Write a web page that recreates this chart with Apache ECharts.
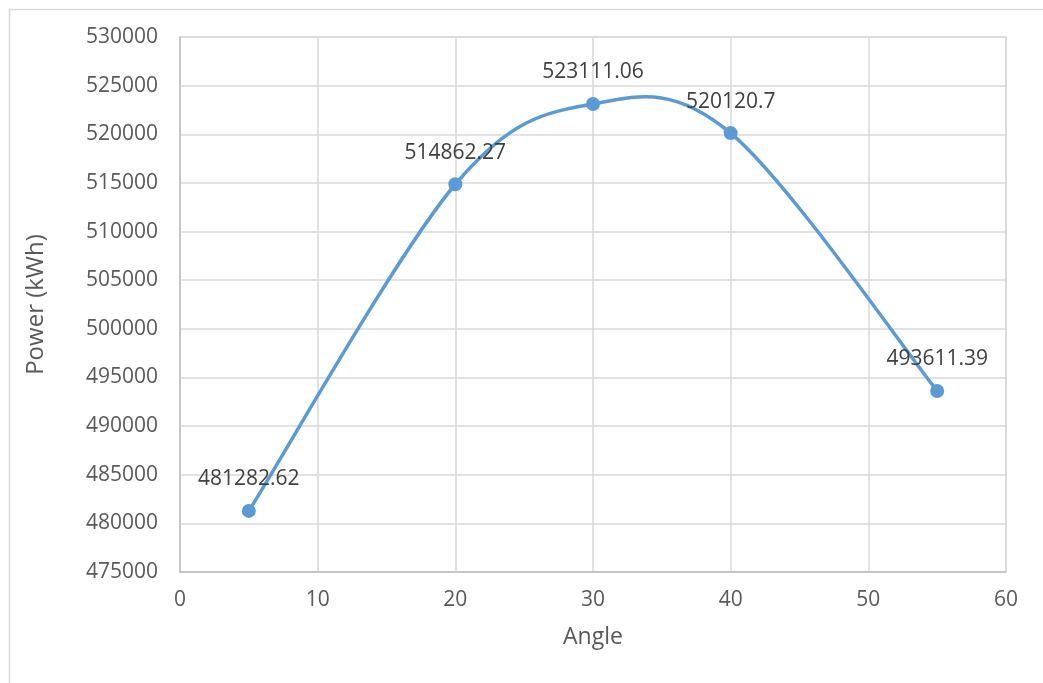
<!DOCTYPE html>
<html><head><meta charset="utf-8">
<script src="https://cdn.jsdelivr.net/npm/echarts@6/dist/echarts.min.js"></script>
<style>html,body{margin:0;padding:0;background:#fff}#c{width:1043px;height:683px}</style>
</head><body><div id="c"></div>
<script>
const angles = [5, 20, 30, 40, 55];
const power = [481282.62, 514862.27, 523111.06, 520120.7, 493611.39];
const xTicks = [0, 10, 20, 30, 40, 50, 60];
const yMin = 475000, yMax = 530000, yStep = 5000;
const xName = 'Angle', yName = 'Power (kWh)';

const font = '"Open Sans", "Noto Sans", sans-serif';
const pts = angles.map((a, i) => [a, power[i]]);
const color = '#5b9bd5';

// Excel-style smoothed line: cubic Bezier with Catmull-Rom control points (tension 1/6) in pixel space
function renderCurve(params, api) {
  const P = pts.map(p => api.coord(p));
  const children = [];
  for (let i = 0; i < P.length - 1; i++) {
    const p0 = P[Math.max(i - 1, 0)], p1 = P[i], p2 = P[i + 1], p3 = P[Math.min(i + 2, P.length - 1)];
    children.push({
      type: 'bezierCurve',
      shape: {
        x1: p1[0], y1: p1[1], x2: p2[0], y2: p2[1],
        cpx1: p1[0] + (p2[0] - p0[0]) / 6, cpy1: p1[1] + (p2[1] - p0[1]) / 6,
        cpx2: p2[0] - (p3[0] - p1[0]) / 6, cpy2: p2[1] - (p3[1] - p1[1]) / 6
      },
      style: {stroke: color, lineWidth: 3.5, fill: null, lineCap: 'round'}
    });
  }
  return {type: 'group', children};
}

const chart = echarts.init(document.getElementById('c'), null, {renderer: 'canvas'});
chart.setOption({
  animation: false,
  backgroundColor: '#fff',
  graphic: [{type: 'rect', left: 7, top: 7, shape: {width: 1100, height: 720}, style: {fill: 'none', stroke: '#d9d9d9', lineWidth: 1.5}, silent: true, z: -1}],
  grid: {left: 180, right: 37, top: 37, bottom: 111, show: true, borderColor: '#d9d9d9', borderWidth: 1.5, backgroundColor: 'transparent'},
  xAxis: {
    type: 'value', min: xTicks[0], max: xTicks[xTicks.length - 1], interval: 10,
    name: xName, nameLocation: 'middle', nameGap: 54,
    nameTextStyle: {fontFamily: font, fontSize: 23, color: '#595959'},
    axisLine: {show: true, lineStyle: {color: '#bfbfbf', width: 1.5}},
    axisTick: {show: false},
    axisLabel: {fontFamily: font, fontSize: 21, color: '#595959', margin: 18},
    splitLine: {show: true, lineStyle: {color: '#d9d9d9', width: 1.5}}
  },
  yAxis: {
    type: 'value', min: yMin, max: yMax, interval: yStep,
    name: yName, nameLocation: 'middle', nameGap: 132, nameRotate: 90,
    nameTextStyle: {fontFamily: font, fontSize: 24, color: '#595959'},
    axisLine: {show: true, lineStyle: {color: '#bfbfbf', width: 1.5}},
    axisTick: {show: false},
    axisLabel: {fontFamily: font, fontSize: 21, color: '#595959', margin: 22, formatter: v => String(v)},
    splitLine: {show: true, lineStyle: {color: '#d9d9d9', width: 1.5}}
  },
  series: [{
    type: 'custom',
    renderItem: renderCurve,
    data: [0],
    silent: true,
    z: 2
  }, {
    type: 'scatter',
    data: pts,
    symbol: 'circle', symbolSize: 14,
    itemStyle: {color: color, opacity: 1},
    z: 3,
    label: {show: true, position: 'top', distance: 14, fontFamily: font, fontSize: 21, color: '#404040',
      formatter: p => String(p.value[1])}
  }]
});
</script></body></html>
